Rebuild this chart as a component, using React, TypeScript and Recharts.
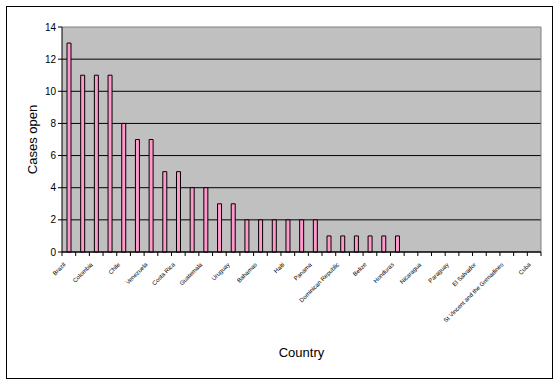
import React from "react";
import {
  BarChart,
  Bar,
  XAxis,
  YAxis,
  CartesianGrid,
} from "recharts";

// labels are unreadable in the source at that size; names are best guesses
const countries = [
  "Brazil", "Argentina", "Colombia", "Mexico", "Chile", "Peru", "Venezuela",
  "Ecuador", "Costa Rica", "Bolivia", "Guatemala", "Canada", "Uruguay",
  "Jamaica", "Bahamas", "Suriname", "Haiti", "Guyana", "Panama", "Barbados",
  "Dominican Republic", "Grenada", "Belize", "Dominica", "Honduras",
  "Saint Lucia", "Nicaragua", "Trinidad and Tobago", "Paraguay",
  "Antigua and Barbuda", "El Salvador", "St Kitts and Nevis",
  "St Vincent and the Grenadines", "United States", "Cuba",
];

const casesOpen = [
  13, 11, 11, 11, 8, 7, 7, 5, 5, 4, 4, 3, 3, 2, 2, 2, 2, 2, 2,
  1, 1, 1, 1, 1, 1, 0, 0, 0, 0, 0, 0, 0, 0, 0, 0,
];

const yTicks = [0, 2, 4, 6, 8, 10, 12, 14];

const data = countries.map((country, i) => ({ country, cases: casesOpen[i] }));

const W = 558;
const H = 384;
const PLOT_LEFT = 62;
const PLOT_RIGHT = 541;
const PLOT_TOP = 27;
const AXIS_Y = 252;
const BAND = (PLOT_RIGHT - PLOT_LEFT) / countries.length;
const FONT = "'Liberation Sans', Arial, sans-serif";

function CountryTick(props: any) {
  const { x, payload } = props;
  const index = props.index ?? payload.index;
  const left = x - BAND / 2;
  const tx = x - 3;
  const ty = AXIS_Y + 13;
  return (
    <g>
      <line x1={left} y1={AXIS_Y} x2={left} y2={AXIS_Y + 4} stroke="#000" />
      {index === countries.length - 1 && (
        <line x1={x + BAND / 2} y1={AXIS_Y} x2={x + BAND / 2} y2={AXIS_Y + 4} stroke="#000" />
      )}
      {index % 2 === 0 && (
        <text
          x={tx}
          y={ty}
          textAnchor="end"
          fontSize={6}
          fontFamily={FONT}
          fill="#000"
          transform={`rotate(-45, ${tx}, ${ty})`}
        >
          {payload.value}
        </text>
      )}
    </g>
  );
}

function GridLine(props: any) {
  const { x1, y1, x2, y2 } = props;
  const top = Math.abs(y1 - PLOT_TOP) < 2;
  return (
    <line
      key={props.key ?? `h-${y1}`}
      x1={x1}
      y1={y1}
      x2={x2}
      y2={y2}
      stroke={top ? "#808080" : "#000"}
      strokeWidth={1}
    />
  );
}

export default function App() {
  return (
    <div style={{ position: "absolute", left: 0, top: 0, width: W, height: H, background: "#fff" }}>
      <div
        style={{
          position: "absolute",
          left: 6,
          top: 6,
          width: 547,
          height: 373,
          border: "1px solid #000",
          boxSizing: "border-box",
        }}
      />
      <div style={{ position: "absolute", left: 0, top: 0 }}>
        <BarChart
          width={W}
          height={H}
          data={data}
          margin={{ top: PLOT_TOP, right: W - PLOT_RIGHT, bottom: 0, left: 0 }}
          barCategoryGap={0}
        >
          <CartesianGrid
            fill="#c0c0c0"
            stroke="#808080"
            horizontal={GridLine}
            vertical
            verticalCoordinatesGenerator={() => [PLOT_RIGHT]}
          />
          <XAxis
            dataKey="country"
            interval={0}
            tick={<CountryTick />}
            tickLine={false}
            axisLine={{ stroke: "#000" }}
            height={H - AXIS_Y}
            label={{
              value: "Country",
              position: "insideBottom",
              offset: 27,
              fontSize: 13,
              fontFamily: FONT,
              fill: "#000",
            }}
          />
          <YAxis
            domain={[0, 14]}
            ticks={yTicks}
            interval={0}
            width={PLOT_LEFT}
            tickSize={4}
            tickMargin={2}
            tick={{ fontSize: 10, fontFamily: FONT, fill: "#000" }}
            tickLine={{ stroke: "#000" }}
            axisLine={{ stroke: "#000" }}
            label={{
              value: "Cases open",
              angle: -90,
              position: "insideLeft",
              offset: 32,
              fontSize: 13,
              fontFamily: FONT,
              fill: "#000",
              style: { textAnchor: "middle" },
            }}
          />
          <Bar
            dataKey="cases"
            fill="#ff99cc"
            stroke="#000"
            strokeWidth={1}
            barSize={4}
            isAnimationActive={false}
          />
        </BarChart>
      </div>
    </div>
  );
}
